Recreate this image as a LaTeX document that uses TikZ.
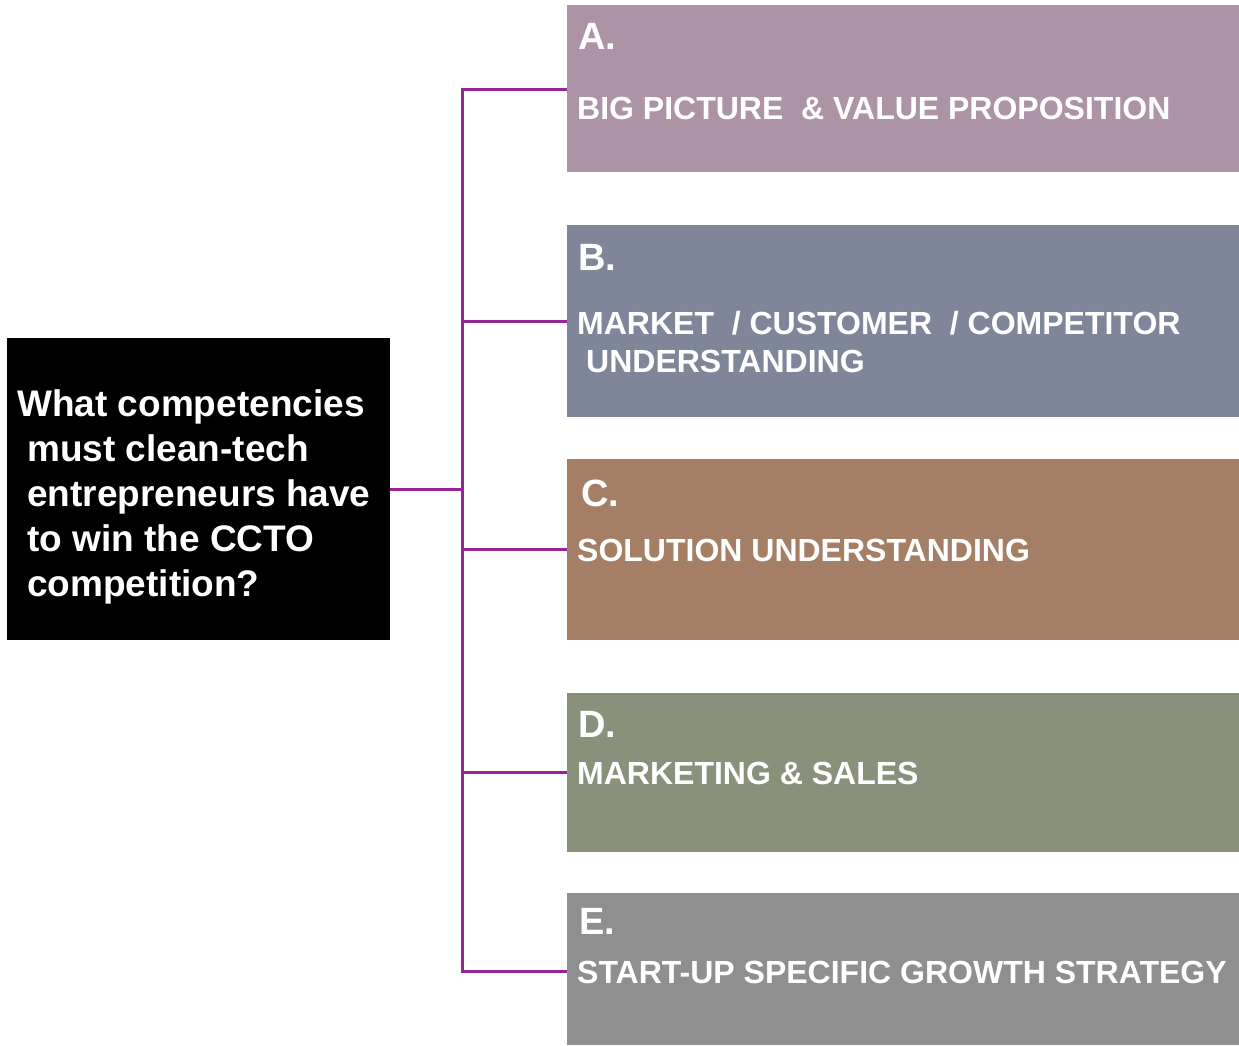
\documentclass[tikz,border=0pt]{standalone}
\usepackage{fontspec}
\setmainfont{Liberation Sans}
\usetikzlibrary{positioning}

\definecolor{linkpurple}{RGB}{150,36,152}
\definecolor{cardA}{RGB}{172,148,166}
\definecolor{cardB}{RGB}{128,134,154}
\definecolor{cardC}{RGB}{164,127,101}
\definecolor{cardD}{RGB}{138,145,122}
\definecolor{cardE}{RGB}{143,143,143}

\begin{document}
\begin{tikzpicture}[x=1pt,y=-1pt]
    \tikzstyle{card}=[anchor=north west, inner sep=0pt, minimum width=672pt]
    \tikzstyle{tag}=[anchor=base west, inner sep=0pt, text=white, font=\fontsize{38}{40}\selectfont\bfseries]
    \tikzstyle{item}=[anchor=base west, inner sep=0pt, text=white, align=left, font=\fontsize{32}{38}\selectfont\bfseries]
    \tikzstyle{link}=[draw=linkpurple, line width=3pt]

    \useasboundingbox (0,0) rectangle (1239,1045);

    % question box
    \node[fill=black, anchor=north west, inner sep=0pt, minimum width=383pt, minimum height=302pt] (question) at (7,338) {};
    \node[anchor=north west, inner sep=0pt, text=white, align=left, font=\fontsize{37}{45}\selectfont\bfseries] (qtext) at (17,389)
        {What competencies\\ \hspace*{10pt}must clean-tech\\ \hspace*{10pt}entrepreneurs have\\ \hspace*{10pt}to win the CCTO\\ \hspace*{10pt}competition?};

    % competency cards
    \node[card, fill=cardA, minimum height=167pt] (boxA) at (567,5) {};
    \node[card, fill=cardB, minimum height=192pt] (boxB) at (567,225) {};
    \node[card, fill=cardC, minimum height=181pt] (boxC) at (567,459) {};
    \node[card, fill=cardD, minimum height=159pt] (boxD) at (567,693) {};
    \node[card, fill=cardE, minimum height=152pt] (boxE) at (567,893) {};

    \node[tag] (tagA) at (578,49) {A.};
    \node[item] (itemA) at (577,119) {BIG PICTURE\ \ \& VALUE PROPOSITION};
    \node[tag] (tagB) at (578,270) {B.};
    % two lines: base is the last one
    \node[item] (itemB) at (577,372) {MARKET\ \ / CUSTOMER\ \ / COMPETITOR\\ \hspace*{9pt}UNDERSTANDING};
    \node[tag] (tagC) at (581,506) {C.};
    \node[item] (itemC) at (577,561) {SOLUTION UNDERSTANDING};
    \node[tag] (tagD) at (578,737) {D.};
    \node[item] (itemD) at (577,784) {MARKETING \& SALES};
    \node[tag] (tagE) at (579,934) {E.};
    \node[item] (itemE) at (577,983) {START-UP SPECIFIC GROWTH STRATEGY};

    % connectors
    \coordinate (jA) at (462,89);
    \coordinate (jB) at (462,321);
    \coordinate (jC) at (462,549);
    \coordinate (jD) at (462,772);
    \coordinate (jE) at (462,971);

    \draw[link] (jA -| boxA.west) -- (jA) -- (jE) -- (jE -| boxE.west);
    \draw[link] (jB) -- (jB -| boxB.west);
    \draw[link] (jC) -- (jC -| boxC.west);
    \draw[link] (jD) -- (jD -| boxD.west);
    \draw[link] (question.east) -- (question.east -| jA);
\end{tikzpicture}
\end{document}
